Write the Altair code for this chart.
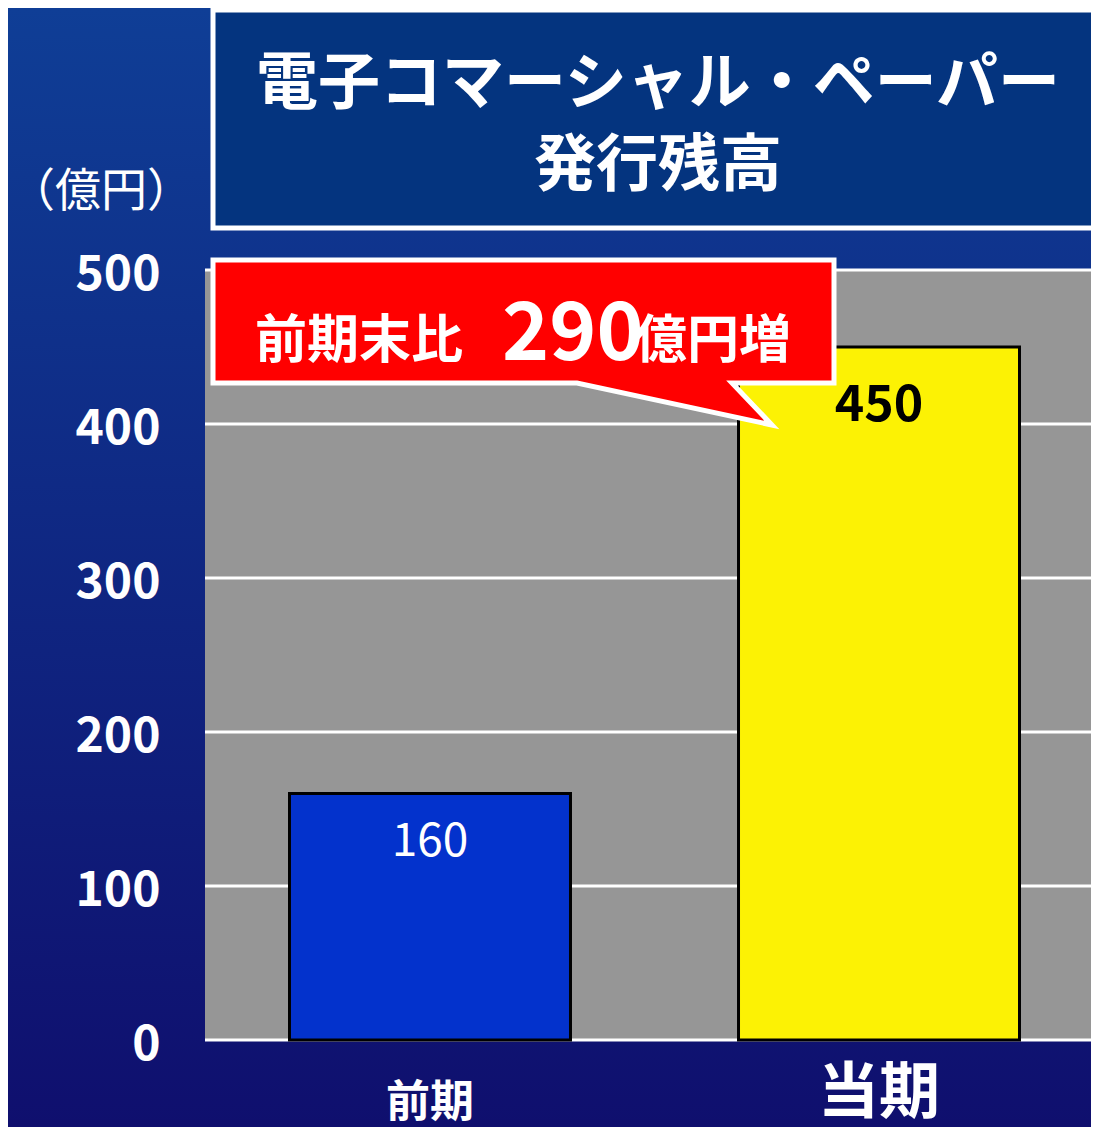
import altair as alt
import pandas as pd

# ---- data ----
categories = ["前期", "当期"]
values = [160, 450]
bar_colors = ["#0332cc", "#fcf204"]
y_ticks = [0, 100, 200, 300, 400, 500]

title_line1 = "電子コマーシャル・ペーパー"
title_line2 = "発行残高"
unit_label = "（億円）"
callout_pre = "前期末比"
callout_num = "290"
callout_post = "億円増"

# ---- layout ----
W, H = 886, 770
PAD_L, PAD_T, PAD_B = 197, 262, 87
FONT = "Noto Sans CJK JP"

bars_df = pd.DataFrame({"period": categories, "value": values, "color": bar_colors})
grid_df = pd.DataFrame({"tick": y_ticks})
one = pd.DataFrame({"k": [0]})

xscale = alt.Scale(domain=categories, range=[84.5, 814.5], paddingInner=0.3742, paddingOuter=0)
yscale = alt.Scale(domain=[0, 500])

yaxis = alt.Axis(values=y_ticks, title=None, domain=False, ticks=False, grid=False,
                 labelFont=FONT, labelFontWeight="bold", labelFontSize=48,
                 labelColor="white", labelPadding=45, labelOffset=5, zindex=1)
xaxis = alt.Axis(title=None, domain=False, ticks=False, grid=False, labelAngle=0,
                 labelFont=FONT, labelFontWeight="bold", labelColor="white",
                 labelBaseline="bottom", labelPadding=85,
                 labelFontSize={"condition": {"test": "datum.value === '当期'", "value": 61}, "value": 44},
                 zindex=1)

bg = alt.Chart(one).mark_rect(
    fill=alt.Gradient(gradient="linear",
                      stops=[alt.GradientStop(color="#0f3e96", offset=0),
                             alt.GradientStop(color="#0f0f6e", offset=1)],
                      x1=0, x2=0, y1=0, y2=1)
).encode(x=alt.value(-PAD_L), x2=alt.value(W), y=alt.value(-PAD_T), y2=alt.value(H + PAD_B))

plot_bg = alt.Chart(one).mark_rect(fill="#969696").encode(
    x=alt.value(0), x2=alt.value(W), y=alt.value(0), y2=alt.value(H))

grid = alt.Chart(grid_df).mark_rule(color="white", strokeWidth=3).encode(
    y=alt.Y("tick:Q", scale=yscale, axis=yaxis))

bars = alt.Chart(bars_df).mark_bar(stroke="black", strokeWidth=3).encode(
    x=alt.X("period:N", scale=xscale, axis=xaxis, sort=categories),
    y=alt.Y("value:Q", scale=yscale, axis=yaxis),
    color=alt.Color("color:N", scale=None))

lab_prev = alt.Chart(bars_df).transform_filter("datum.period === '前期'").mark_text(
    color="white", font=FONT, fontSize=46, baseline="middle", dy=48
).encode(x=alt.X("period:N", scale=xscale, sort=categories),
         y=alt.Y("value:Q", scale=yscale), text="value:Q")

lab_cur = alt.Chart(bars_df).transform_filter("datum.period === '当期'").mark_text(
    color="black", font=FONT, fontSize=50, fontWeight="bold", baseline="middle", dy=59
).encode(x=alt.X("period:N", scale=xscale, sort=categories),
         y=alt.Y("value:Q", scale=yscale), text="value:Q")

title_box = alt.Chart(one).mark_rect(fill="#04347f", stroke="white", strokeWidth=5).encode(
    x=alt.value(8), x2=alt.value(910), y=alt.value(-260), y2=alt.value(-42))

t1 = alt.Chart(one).mark_text(color="white", font=FONT, fontSize=62, fontWeight="bold",
                              align="center", baseline="middle", text=title_line1).encode(
    x=alt.value(453), y=alt.value(-185))
t2 = alt.Chart(one).mark_text(color="white", font=FONT, fontSize=62, fontWeight="bold",
                              align="center", baseline="middle", text=title_line2).encode(
    x=alt.value(453), y=alt.value(-103))

unit = alt.Chart(one).mark_text(color="white", font=FONT, fontSize=46,
                                align="center", baseline="middle", text=unit_label).encode(
    x=alt.value(-104), y=alt.value(-78))

callout_path = "M8,-10 L629,-10 L629,113 L527,113 L567,155 L372,113 L8,113 Z"
callout = alt.Chart(one).mark_point(shape=callout_path, size=4, filled=True, color="#ff0000",
                                    fill="#ff0000", stroke="white", strokeWidth=5,
                                    opacity=1, fillOpacity=1, strokeOpacity=1).encode(
    x=alt.value(0), y=alt.value(0))

c1 = alt.Chart(one).mark_text(color="white", font=FONT, fontSize=52, fontWeight="bold",
                              align="left", baseline="alphabetic", text=callout_pre).encode(
    x=alt.value(50), y=alt.value(88))
c2 = alt.Chart(one).mark_text(color="white", font=FONT, fontSize=80, fontWeight="bold",
                              align="left", baseline="alphabetic", text=callout_num).encode(
    x=alt.value(297), y=alt.value(90))
c3 = alt.Chart(one).mark_text(color="white", font=FONT, fontSize=52, fontWeight="bold",
                              align="left", baseline="alphabetic", text=callout_post).encode(
    x=alt.value(430), y=alt.value(88))

chart = alt.layer(bg, plot_bg, grid, bars, lab_prev, lab_cur, title_box, t1, t2, unit,
                  callout, c1, c2, c3).properties(
    width=W, height=H,
    padding={"left": PAD_L, "top": PAD_T, "right": 0, "bottom": PAD_B},
    autosize=alt.AutoSizeParams(type="none"),
).configure_view(stroke=None).configure(background="#0f0f6e")

chart.save("out.html", embed_options={"renderer": "svg", "actions": False})
